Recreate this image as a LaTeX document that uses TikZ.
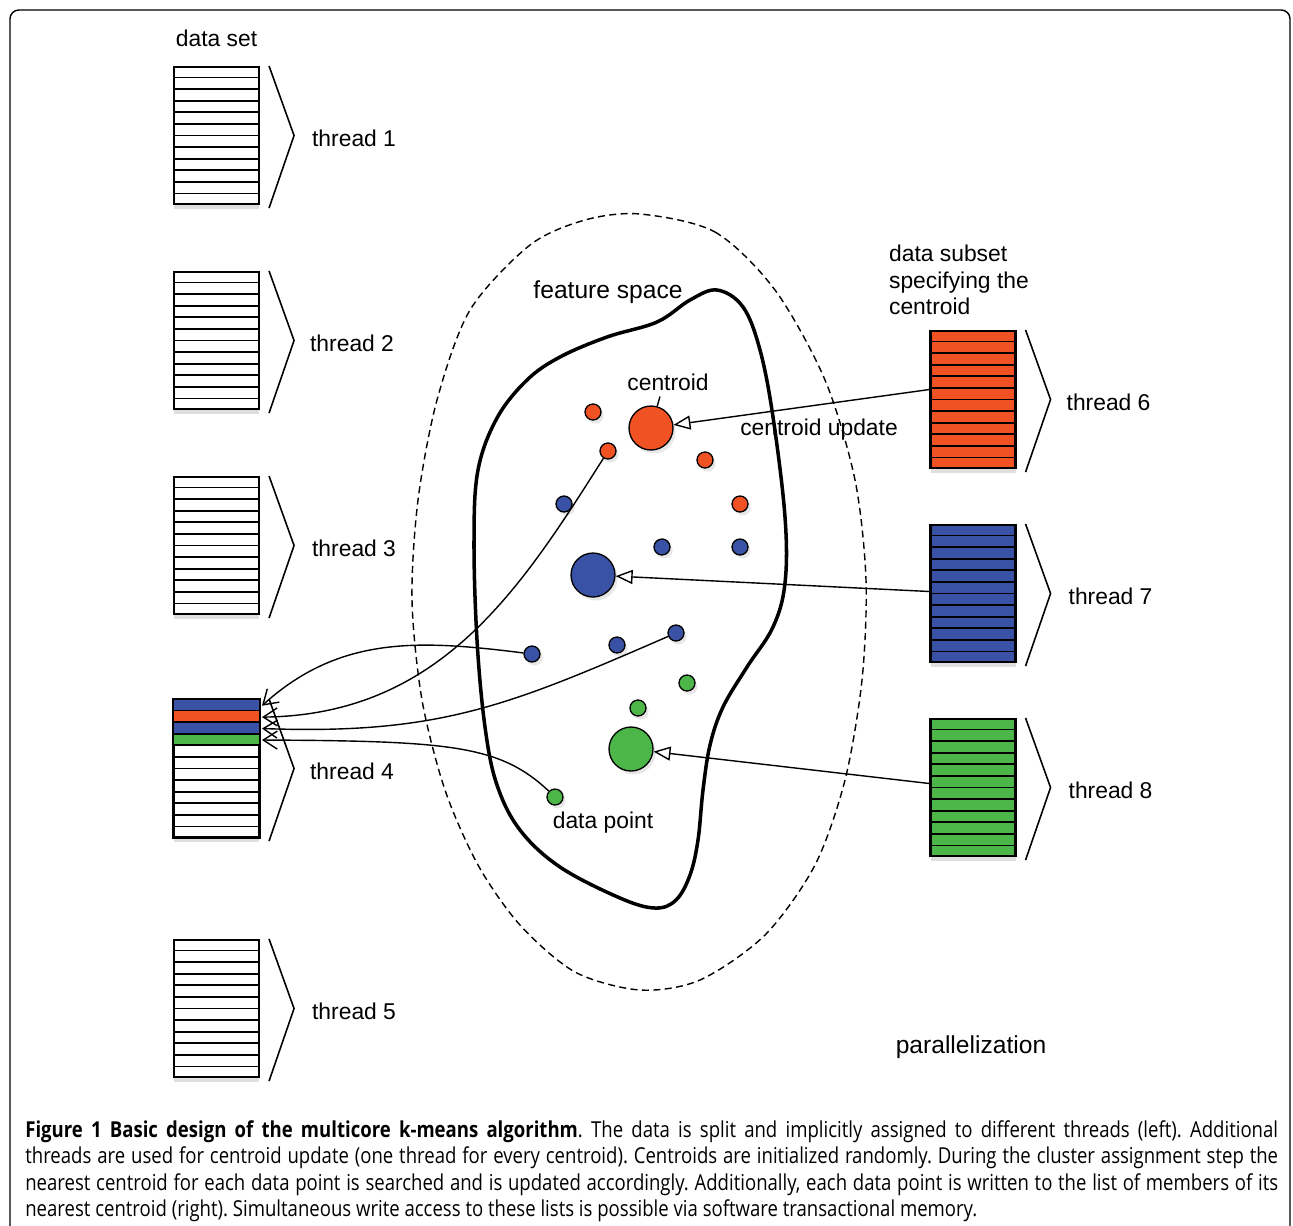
\documentclass[tikz,border=0pt]{standalone}
\usepackage{fontspec}
\setmainfont{Liberation Sans}
\newfontfamily\capfont[FakeStretch=0.845]{Open Sans}
\usetikzlibrary{arrows.meta, positioning, calc, shadows}

\definecolor{dotorange}{RGB}{240,82,36}
\definecolor{dotblue}{RGB}{58,82,165}
\definecolor{dotgreen}{RGB}{76,183,72}

\begin{document}
\begin{tikzpicture}[
	x=0.02cm, y=-0.02cm,
	lbl/.style={font=\fontsize{13}{15}\selectfont, inner sep=1pt},
	tlbl/.style={lbl, yshift=-1.5pt},
	block/.style={draw, fill=white, line width=1.2pt, minimum width=1.7cm, minimum height=2.74cm, inner sep=0pt,
		drop shadow={shadow xshift=0pt, shadow yshift=-3pt, opacity=0.25}},
	bracket/.style={line width=0.9pt},
	dot/.style={circle, draw, line width=0.75pt, minimum size=0.32cm, inner sep=0pt,
		drop shadow={shadow xshift=1.5pt, shadow yshift=-2pt, opacity=0.18}},
	centroid/.style={dot, minimum size=0.88cm},
	update/.style={line width=0.8pt, -{Triangle[open, length=0.34cm, width=0.28cm]}},
	assign/.style={line width=0.8pt, -{Straight Barb[length=0.28cm, width=0.36cm]}}
	]
	\useasboundingbox (0,0) rectangle (1293,1225);
	
	% --- FRAME ---
	\draw[line width=0.8pt, rounded corners=5pt] (10,1260) |- (1290,10) -- (1290,1260);
	
	% --- FEATURE SPACE ---
	\draw[dashed, line width=0.8pt, dash pattern=on 4pt off 2.5pt] plot[smooth cycle] coordinates {
		(640,214) (715,232) (775,290) (825,380) (855,480) (866,580) (862,680) (845,780)
		(815,865) (765,935) (700,980) (640,990) (575,972) (520,925) (478,865) (445,790)
		(422,700) (412,600) (418,500) (437,400) (470,310) (530,245) (585,220)};
	\draw[line width=2pt] plot[smooth cycle, tension=0.6] coordinates {
		(717,290) (743,307) (760,350) (773,417) (785,517) (785,583) (773,627) (747,667)
		(723,707) (710,745) (703,790) (698,840) (690,875) (676,900) (655,908) (620,898)
		(560,867) (520,830) (497,785) (485,727) (477,640) (474,540) (478,470) (497,418)
		(527,380) (560,357) (607,337) (657,322) (690,300)};
	\node[lbl, font=\fontsize{14}{16}\selectfont] (fspace) at (608,292) {feature space};
	
	% --- THREAD BLOCKS ---
	\node[block] (t1) at (216.5,135.5) {};
	\node[block] (t2) at (216.5,340.5) {};
	\node[block] (t3) at (216.5,545.5) {};
	\node[block] (t4) at (216.5,768.5) {};
	\node[block] (t5) at (216.5,1008.5) {};
	\node[block, fill=dotorange] (t6) at (973,399.5) {};
	\node[block, fill=dotblue] (t7) at (973,593.5) {};
	\node[block, fill=dotgreen] (t8) at (973,787.5) {};
	
	\foreach \k/\c/\n in {0/dotblue/1, 1/dotorange/2, 2/dotblue/3, 3/dotgreen/4}
		\fill[\c] ($(t4.north west)!\k/12!(t4.south west)$) rectangle ($(t4.north east)!\n/12!(t4.south east)$);
	\draw[line width=1.2pt] (t4.north west) rectangle (t4.south east);
	
	\foreach \blk in {t1,t2,t3,t4,t5,t6,t7,t8} {
		\foreach \k in {1,...,11}
			\draw[line width=1pt] ($(\blk.north west)!\k/12!(\blk.south west)$) -- ($(\blk.north east)!\k/12!(\blk.south east)$);
		\draw[bracket] ($(\blk.north east)+(9,0)$) -- ($(\blk.east)+(34,0)$) -- ($(\blk.south east)+(9,3)$);
	}
	
	\node[lbl, above=0.35cm of t1] (dset) {data set};
	\node[tlbl, right=1cm of t1.east] {thread 1};
	\node[tlbl, right=0.96cm of t2.east] {thread 2};
	\node[tlbl, right=1cm of t3.east] {thread 3};
	\node[tlbl, right=0.96cm of t4.east] {thread 4};
	\node[tlbl, right=1cm of t5.east] {thread 5};
	\node[tlbl, right=0.96cm of t6.east] {thread 6};
	\node[tlbl, right=1cm of t7.east] {thread 7};
	\node[tlbl, right=1cm of t8.east] {thread 8};
	\node[lbl, align=left, anchor=north west] (subset) at (887,243) {data subset\\specifying the\\centroid};
	\node[lbl, font=\fontsize{14}{16}\selectfont] (par) at (971,1047) {parallelization};
	
	% --- DATA POINTS AND CENTROIDS ---
	\node[dot, fill=dotorange] (o1) at (593,412) {};
	\node[dot, fill=dotorange] (o2) at (608,451) {};
	\node[dot, fill=dotorange] (o3) at (705,460) {};
	\node[dot, fill=dotorange] (o4) at (740,504) {};
	\node[dot, fill=dotblue] (b1) at (564,504) {};
	\node[dot, fill=dotblue] (b2) at (662,547) {};
	\node[dot, fill=dotblue] (b3) at (740,547) {};
	\node[dot, fill=dotblue] (b4) at (532,654) {};
	\node[dot, fill=dotblue] (b5) at (617,645) {};
	\node[dot, fill=dotblue] (b6) at (676,633) {};
	\node[dot, fill=dotgreen] (g1) at (687,683) {};
	\node[dot, fill=dotgreen] (g2) at (638,708) {};
	\node[dot, fill=dotgreen] (g3) at (555,797) {};
	\node[centroid, fill=dotorange] (co) at (651,428) {};
	\node[centroid, fill=dotblue] (cb) at (593,575) {};
	\node[centroid, fill=dotgreen] (cg) at (631,749) {};
	
	\node[lbl] (clab) at (668,382) {centroid};
	\draw[line width=0.8pt] ($(clab.south)+(-8,4)$) -- (co);
	\node[lbl] (cupd) at (819,430) {centroid update};
	\node[lbl] (dpoint) at (603,823) {data point};
	
	% --- CENTROID UPDATE ---
	\draw[update] ($(t6.west)+(0,-10)$) -- (co);
	\draw[update] ($(t7.west)+(0,-2)$) -- (cb);
	\draw[update] ($(t8.west)+(0,-4)$) -- (cg);
	
	% --- CLUSTER ASSIGNMENT ---
	\coordinate (r1) at (262,705.7);
	\coordinate (r2) at (262,717.1);
	\coordinate (r3) at (262,728.5);
	\coordinate (r4) at (262,740);
	\draw[assign] (b4) .. controls (420,640) and (340,635) .. (r1);
	\draw[assign] (o2) .. controls (520,590) and (440,715) .. (r2);
	\draw[assign] (b6) .. controls (510,705) and (440,735) .. (r3);
	\draw[assign] (g3) .. controls (500,745) and (450,741) .. (r4);
	
	% --- CAPTION ---
	\node[anchor=north west, text width=25.06cm, align=justify, inner sep=0pt,
		font=\capfont\fontsize{12.5}{15.1}\selectfont\frenchspacing] (caption) at (25,1120)
		{\textbf{Figure 1 Basic design of the multicore k-means algorithm}. The data is split and implicitly assigned to different threads (left). Additional\linebreak
		threads are used for centroid update (one thread for every centroid). Centroids are initialized randomly. During the cluster assignment step the\linebreak
		nearest centroid for each data point is searched and is updated accordingly. Additionally, each data point is written to the list of members of its\linebreak
		nearest centroid (right). Simultaneous write access to these lists is possible via software transactional memory.};
	
\end{tikzpicture}
\end{document}
